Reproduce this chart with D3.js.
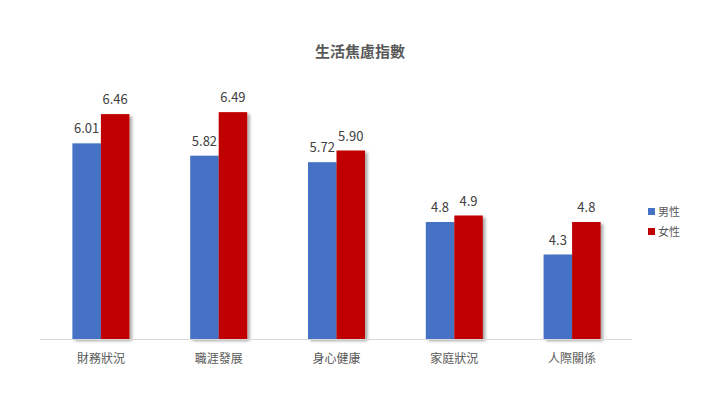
<!DOCTYPE html>
<html><head><meta charset="utf-8">
<script src="https://cdn.jsdelivr.net/npm/d3@7"></script>
<style>body{margin:0;background:#fff}svg{display:block}</style>
</head><body>
<script>
const categories = ["財務狀況","職涯發展","身心健康","家庭狀況","人際關係"];
const seriesNames = ["男性","女性"];
const male = [6.01,5.82,5.72,4.8,4.3];
const female = [6.46,6.49,5.90,4.9,4.8];
const maleLabels = ["6.01","5.82","5.72","4.8","4.3"];
const femaleLabels = ["6.46","6.49","5.90","4.9","4.8"];
const title = "生活焦慮指數";

const W=720,H=405;
const colors=["#4472C4","#C00000"];
const font="'Noto Sans CJK TC','Noto Sans',sans-serif";
const svg=d3.select("body").append("svg").attr("width",W).attr("height",H);
const defs=svg.append("defs");
const f=defs.append("filter").attr("id","sh").attr("x","-20%").attr("y","-20%").attr("width","160%").attr("height","150%");
f.append("feDropShadow").attr("dx",2.5).attr("dy",2).attr("stdDeviation",1.5).attr("flood-color","#000").attr("flood-opacity",0.35);

const x0=d3.scaleBand().domain(categories).range([42,631]).paddingInner(0).paddingOuter(0);
const x1=d3.scaleBand().domain(seriesNames).range([0,57]);
const y=d3.scaleLinear().domain([3,7]).range([339,79]);

const data=categories.map((c,i)=>({c,vals:[{s:seriesNames[0],v:male[i],l:maleLabels[i]},{s:seriesNames[1],v:female[i],l:femaleLabels[i]}]}));

svg.append("text").attr("x",360).attr("y",57).attr("text-anchor","middle")
 .attr("font-family",font).attr("font-size",15).attr("font-weight","bold").attr("fill","#595959").text(title);

const g=svg.selectAll("g.grp").data(data).join("g").attr("class","grp")
 .attr("transform",d=>`translate(${x0(d.c)+x0.bandwidth()/2-28.5},0)`);
g.selectAll("rect").data(d=>d.vals).join("rect")
 .attr("x",d=>x1(d.s)).attr("width",x1.bandwidth())
 .attr("y",d=>y(d.v)).attr("height",d=>y(3)-y(d.v))
 .attr("fill",(d,i)=>colors[i]).attr("filter","url(#sh)");
g.selectAll("text.v").data(d=>d.vals).join("text").attr("class","v")
 .attr("x",d=>x1(d.s)+x1.bandwidth()/2).attr("y",d=>y(d.v)-10)
 .attr("text-anchor","middle").attr("font-family",font).attr("font-size",13)
 .attr("fill","#404040").text(d=>d.l);

const ax=svg.append("g").attr("transform","translate(0,339)")
 .call(d3.axisBottom(x0).tickSize(0).tickPadding(15));
ax.select(".domain").attr("stroke","#d9d9d9").attr("d","M40,0.5H632");
ax.selectAll("text").attr("font-family",font).attr("font-size",12).attr("fill","#595959");

const lg=svg.append("g");
seriesNames.forEach((s,i)=>{
 lg.append("rect").attr("x",648).attr("y",208+i*20).attr("width",7).attr("height",7).attr("fill",colors[i]);
 lg.append("text").attr("x",658).attr("y",216+i*20).attr("font-family",font).attr("font-size",11).attr("fill","#595959").text(s);
});
</script>
</body></html>
